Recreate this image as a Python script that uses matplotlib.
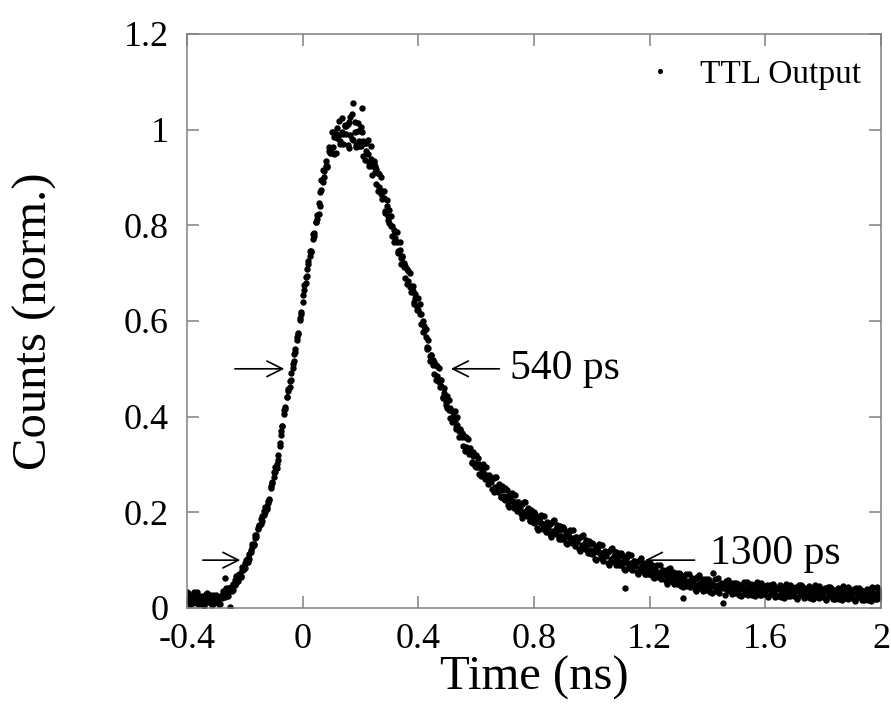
import matplotlib
matplotlib.use("Agg")
import matplotlib.pyplot as plt
import numpy as np

plt.rcParams['font.family'] = ['Liberation Serif', 'DejaVu Serif']

# time axis: one reading every 5 ps from -0.4 ns to 2.0 ns
time_ns = np.linspace(-0.4, 2.0, 481)

# counts, in thousandths of the peak, two readings per time
counts_a_milli = [
    33, 17, 24, 8, 27, 20, 11, 33, 16, 23,
    23, 7, 26, 15, 32, 12, 19, 9, 28, 14,
    12, 26, 9, 23, 21, 36, 22, 32, 24, 42,
    2, 46, 37, 59, 52, 63, 72, 65, 80, 79,
    94, 93, 104, 103, 122, 127, 132, 153, 153, 166,
    174, 175, 193, 194, 211, 206, 219, 227, 254, 263,
    273, 294, 292, 320, 339, 370, 381, 406, 415, 442,
    454, 474, 477, 511, 517, 542, 566, 573, 602, 615,
    655, 664, 692, 694, 726, 735, 745, 782, 784, 806,
    822, 824, 869, 874, 916, 902, 923, 923, 963, 957,
    952, 996, 949, 991, 983, 1019, 977, 996, 970, 1010,
    990, 1012, 961, 1026, 981, 1056, 1016, 963, 998, 965,
    1006, 1046, 976, 936, 973, 950, 925, 965, 924, 933,
    923, 887, 910, 881, 902, 855, 857, 829, 853, 819,
    804, 819, 777, 791, 774, 785, 747, 748, 720, 735,
    712, 715, 677, 705, 671, 674, 674, 636, 648, 623,
    648, 615, 614, 577, 590, 566, 541, 561, 527, 528,
    519, 489, 509, 485, 502, 463, 464, 441, 459, 431,
    418, 434, 397, 412, 399, 411, 378, 382, 358, 374,
    357, 361, 329, 357, 328, 333, 335, 304, 318, 297,
    319, 295, 301, 276, 299, 285, 270, 295, 271, 276,
    272, 249, 271, 253, 273, 243, 249, 233, 255, 234,
    226, 246, 215, 234, 225, 241, 214, 221, 203, 222,
    210, 218, 189, 221, 195, 204, 209, 181, 197, 179,
    201, 179, 187, 164, 190, 178, 165, 192, 170, 178,
    176, 154, 178, 161, 183, 154, 162, 147, 171, 151,
    145, 165, 136, 155, 148, 164, 139, 146, 130, 149,
    138, 146, 119, 151, 127, 136, 143, 115, 133, 115,
    136, 115, 123, 101, 127, 116, 104, 131, 110, 118,
    116, 95, 119, 103, 125, 97, 105, 116, 115, 96,
    90, 111, 82, 42, 95, 112, 87, 95, 79, 99,
    88, 97, 71, 101, 79, 88, 95, 70, 86, 71,
    93, 73, 81, 62, 85, 75, 64, 90, 70, 78,
    76, 56, 78, 64, 84, 57, 65, 52, 74, 57,
    51, 70, 45, 21, 56, 72, 49, 57, 43, 62,
    51, 60, 35, 65, 44, 53, 61, 36, 53, 38,
    61, 42, 50, 32, 73, 46, 35, 62, 42, 51,
    49, 10, 52, 40, 59, 35, 43, 32, 52, 37,
    33, 51, 27, 44, 39, 54, 33, 41, 28, 46,
    51, 34, 41, 24, 46, 38, 28, 52, 35, 43,
    35, 44, 22, 49, 30, 39, 46, 23, 39, 26,
    40, 23, 44, 32, 50, 27, 35, 24, 45, 30,
    26, 44, 21, 38, 33, 47, 27, 35, 22, 40,
    45, 28, 35, 18, 40, 32, 23, 46, 29, 37,
    29, 38, 16, 44, 25, 33, 40, 18, 34, 21,
    35, 18, 39, 27, 45, 22, 30, 19, 40, 25,
    21, 39, 16, 33, 28, 42, 22, 30, 17, 35,
    40, 23, 31, 14, 36, 28, 19, 43, 26, 34,
    30,
]
counts_b_milli = [
    15, 31, 9, 25, 19, 33, 14, 21, 8, 24,
    16, 24, 4, 30, 13, 21, 27, 7, 22, 10,
    28, 14, 21, 9, 28, 25, 62, 42, 31, 41,
    41, 35, 51, 49, 66, 57, 67, 66, 85, 82,
    84, 100, 96, 112, 118, 134, 133, 146, 149, 167,
    171, 185, 181, 202, 200, 212, 224, 226, 250, 261,
    285, 285, 302, 310, 345, 362, 380, 414, 421, 442,
    458, 463, 491, 501, 531, 536, 561, 574, 607, 618,
    639, 676, 680, 708, 719, 746, 747, 772, 777, 807,
    814, 846, 840, 894, 890, 914, 934, 921, 955, 951,
    996, 963, 985, 951, 1003, 988, 970, 1025, 990, 1008,
    1007, 968, 1017, 989, 1032, 978, 995, 968, 1014, 977,
    966, 996, 944, 972, 955, 978, 931, 939, 906, 935,
    912, 917, 872, 907, 866, 871, 871, 826, 841, 811,
    832, 798, 799, 765, 786, 765, 742, 766, 732, 733,
    722, 690, 709, 684, 700, 661, 662, 639, 657, 630,
    622, 635, 593, 600, 579, 584, 545, 544, 516, 529,
    509, 514, 477, 506, 473, 476, 476, 438, 450, 424,
    444, 414, 418, 389, 410, 393, 374, 399, 369, 373,
    365, 339, 358, 337, 354, 321, 324, 306, 326, 303,
    295, 313, 281, 298, 288, 302, 274, 279, 260, 277,
    264, 271, 242, 273, 247, 255, 260, 231, 247, 228,
    250, 228, 235, 212, 236, 224, 210, 237, 214, 221,
    218, 196, 218, 201, 221, 192, 198, 183, 205, 185,
    177, 197, 167, 186, 179, 195, 169, 176, 159, 179,
    168, 176, 149, 181, 157, 166, 173, 145, 163, 145,
    169, 147, 156, 133, 159, 147, 135, 162, 141, 148,
    146, 124, 148, 131, 153, 124, 132, 117, 141, 121,
    112, 133, 103, 123, 116, 133, 108, 115, 99, 119,
    108, 117, 90, 123, 99, 109, 116, 89, 107, 90,
    114, 93, 102, 80, 106, 95, 83, 111, 90, 98,
    96, 76, 98, 84, 104, 77, 85, 72, 94, 77,
    71, 90, 64, 81, 75, 90, 67, 75, 60, 79,
    68, 77, 51, 81, 59, 68, 75, 50, 66, 51,
    73, 53, 62, 43, 66, 57, 46, 72, 53, 61,
    59, 39, 62, 48, 69, 42, 51, 38, 61, 44,
    39, 59, 33, 51, 45, 61, 38, 47, 32, 52,
    42, 51, 28, 56, 37, 45, 52, 30, 45, 32,
    53, 36, 43, 26, 48, 40, 30, 54, 37, 45,
    44, 27, 47, 35, 54, 31, 38, 27, 48, 33,
    29, 47, 24, 40, 35, 50, 30, 37, 24, 42,
    47, 30, 38, 21, 42, 34, 25, 49, 32, 40,
    32, 41, 19, 47, 28, 36, 43, 21, 37, 24,
    38, 21, 41, 29, 48, 25, 33, 21, 42, 27,
    23, 41, 18, 35, 30, 44, 24, 32, 19, 37,
    42, 25, 33, 16, 37, 29, 20, 44, 27, 35,
    27, 36, 14, 42, 23, 31, 38, 16, 32, 19,
    33, 16, 37, 25, 44, 21, 29, 18, 39, 24,
    22,
]
counts_a = np.array(counts_a_milli) / 1000.0
counts_b = np.array(counts_b_milli) / 1000.0

fig = plt.figure(figsize=(8.91, 7.11), dpi=100)
ax = fig.add_axes([0.2099, 0.1449, 0.7789, 0.8073])

ax.plot(time_ns, counts_a, 'o', color='black', markersize=4.6, markeredgewidth=0, label='TTL Output')
ax.plot(time_ns, counts_b, 'o', color='black', markersize=4.6, markeredgewidth=0)

ax.set_xlim(-0.4, 2.0)
ax.set_ylim(0, 1.2)
ax.set_xticks([-0.4, 0, 0.4, 0.8, 1.2, 1.6, 2])
ax.set_xticklabels(['-0.4', '0', '0.4', '0.8', '1.2', '1.6', '2'])
ax.set_yticks([0, 0.2, 0.4, 0.6, 0.8, 1, 1.2])
ax.set_yticklabels(['0', '0.2', '0.4', '0.6', '0.8', '1', '1.2'])

for s in ax.spines.values():
    s.set_color('#808080')
    s.set_linewidth(1.1)
ax.tick_params(direction='in', top=True, right=True, length=8.5, width=1.1,
               color='#808080', labelsize=26)
ax.tick_params(axis='x', pad=11)
ax.tick_params(axis='y', pad=13)

ax.set_xlabel('Time (ns)', fontsize=35)
ax.set_ylabel('Counts (norm.)', fontsize=35)
ax.xaxis.label.set_va('center')
ax.yaxis.label.set_va('center')
ax.xaxis.set_label_coords(0.5, -0.122)
ax.yaxis.set_label_coords(-0.219, 0.5)

arrow = dict(arrowstyle='->', color='black', lw=1.2, mutation_scale=28)
ax.annotate('', xy=(-0.054, 0.5), xytext=(-0.244, 0.5), arrowprops=arrow)
ax.annotate('', xy=(0.503, 0.5), xytext=(0.69, 0.5), arrowprops=arrow)
ax.annotate('', xy=(-0.206, 0.1), xytext=(-0.355, 0.1), arrowprops=arrow)
ax.annotate('', xy=(1.174, 0.1), xytext=(1.365, 0.1), arrowprops=arrow)
ax.text(0.718, 0.5, '540 ps', fontsize=30, va='center', ha='left')
ax.text(1.41, 0.113, '1300 ps', fontsize=30, va='center', ha='left')

ax.legend(loc='center right', bbox_to_anchor=(0.972, 0.929), frameon=False,
          fontsize=24, handlelength=0.8, handletextpad=0.8, borderpad=0,
          borderaxespad=0, markerscale=0.8)

fig.savefig('out.png', dpi=100)
